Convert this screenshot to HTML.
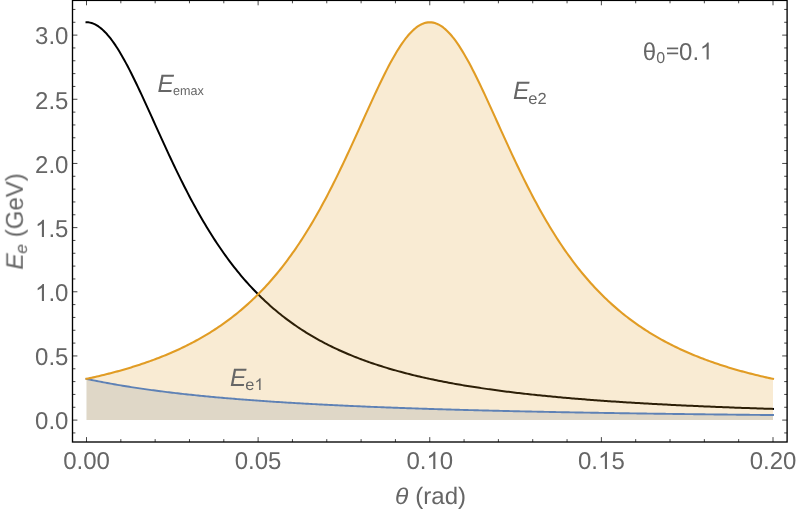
<!DOCTYPE html>
<html><head><meta charset="utf-8"><title>Plot</title>
<style>
html,body{margin:0;padding:0;background:#fff;}
body{width:797px;height:509px;overflow:hidden;font-family:"Liberation Sans",sans-serif;}
svg{display:block;will-change:transform;}
</style></head><body>
<svg width="797" height="509" viewBox="0 0 797 509">
<rect width="797" height="509" fill="#fff"/>
<polyline points="86.50,22.28 88.22,22.36 89.93,22.62 91.65,23.05 93.36,23.65 95.08,24.42 96.80,25.35 98.51,26.45 100.23,27.71 101.95,29.13 103.66,30.70 105.38,32.42 107.09,34.29 108.81,36.30 110.53,38.45 112.24,40.74 113.96,43.15 115.68,45.68 117.39,48.33 119.11,51.08 120.83,53.95 122.54,56.91 124.26,59.97 125.97,63.11 127.69,66.34 129.41,69.64 131.12,73.02 132.84,76.45 134.56,79.95 136.27,83.49 137.99,87.09 139.70,90.73 141.42,94.40 143.14,98.11 144.85,101.84 146.57,105.59 148.28,109.36 150.00,113.15 151.72,116.94 153.43,120.74 155.15,124.54 156.87,128.34 158.58,132.13 160.30,135.91 162.01,139.68 163.73,143.43 165.45,147.17 167.16,150.88 168.88,154.57 170.60,158.24 172.31,161.88 174.03,165.49 175.75,169.07 177.46,172.61 179.18,176.12 180.89,179.60 182.61,183.04 184.33,186.44 186.04,189.81 187.76,193.13 189.47,196.42 191.19,199.66 192.91,202.86 194.62,206.02 196.34,209.14 198.06,212.21 199.77,215.25 201.49,218.24 203.21,221.18 204.92,224.09 206.64,226.95 208.35,229.76 210.07,232.54 211.79,235.27 213.50,237.96 215.22,240.61 216.94,243.22 218.65,245.78 220.37,248.30 222.08,250.79 223.80,253.23 225.52,255.63 227.23,257.99 228.95,260.32 230.67,262.60 232.38,264.85 234.10,267.05 235.81,269.23 237.53,271.36 239.25,273.46 240.96,275.52 242.68,277.55 244.40,279.54 246.11,281.50 247.83,283.43 249.54,285.32 251.26,287.18 252.98,289.01 254.69,290.81 256.41,292.57 258.12,294.31 259.84,296.01 261.56,297.69 263.27,299.34 264.99,300.95 266.71,302.55 268.42,304.11 270.14,305.65 271.86,307.16 273.57,308.64 275.29,310.10 277.00,311.54 278.72,312.95 280.44,314.33 282.15,315.70 283.87,317.03 285.59,318.35 287.30,319.65 289.02,320.92 290.73,322.17 292.45,323.40 294.17,324.61 295.88,325.80 297.60,326.97 299.31,328.12 301.03,329.25 302.75,330.36 304.46,331.46 306.18,332.53 307.90,333.59 309.61,334.63 311.33,335.66 313.05,336.66 314.76,337.65 316.48,338.63 318.19,339.59 319.91,340.53 321.63,341.46 323.34,342.37 325.06,343.27 326.78,344.16 328.49,345.03 330.21,345.89 331.92,346.73 333.64,347.56 335.36,348.38 337.07,349.18 338.79,349.97 340.50,350.75 342.22,351.52 343.94,352.28 345.65,353.02 347.37,353.75 349.09,354.48 350.80,355.19 352.52,355.89 354.24,356.58 355.95,357.26 357.67,357.93 359.38,358.58 361.10,359.23 362.82,359.87 364.53,360.50 366.25,361.12 367.97,361.74 369.68,362.34 371.40,362.93 373.11,363.52 374.83,364.10 376.55,364.66 378.26,365.23 379.98,365.78 381.70,366.32 383.41,366.86 385.13,367.39 386.84,367.91 388.56,368.43 390.28,368.93 391.99,369.43 393.71,369.93 395.43,370.41 397.14,370.89 398.86,371.37 400.57,371.83 402.29,372.29 404.01,372.75 405.72,373.19 407.44,373.64 409.15,374.07 410.87,374.50 412.59,374.93 414.30,375.35 416.02,375.76 417.74,376.17 419.45,376.57 421.17,376.97 422.88,377.36 424.60,377.74 426.32,378.13 428.03,378.50 429.75,378.87 431.47,379.24 433.18,379.60 434.90,379.96 436.62,380.32 438.33,380.66 440.05,381.01 441.76,381.35 443.48,381.68 445.20,382.02 446.91,382.34 448.63,382.67 450.34,382.99 452.06,383.30 453.78,383.61 455.49,383.92 457.21,384.23 458.93,384.53 460.64,384.82 462.36,385.12 464.07,385.41 465.79,385.69 467.51,385.97 469.22,386.25 470.94,386.53 472.66,386.80 474.37,387.07 476.09,387.34 477.81,387.60 479.52,387.86 481.24,388.12 482.95,388.37 484.67,388.63 486.39,388.87 488.10,389.12 489.82,389.36 491.54,389.60 493.25,389.84 494.97,390.07 496.68,390.31 498.40,390.54 500.12,390.76 501.83,390.99 503.55,391.21 505.26,391.43 506.98,391.64 508.70,391.86 510.41,392.07 512.13,392.28 513.85,392.49 515.56,392.69 517.28,392.90 519.00,393.10 520.71,393.30 522.43,393.49 524.14,393.69 525.86,393.88 527.58,394.07 529.29,394.26 531.01,394.44 532.73,394.63 534.44,394.81 536.16,394.99 537.87,395.17 539.59,395.35 541.31,395.52 543.02,395.70 544.74,395.87 546.46,396.04 548.17,396.20 549.89,396.37 551.60,396.53 553.32,396.70 555.04,396.86 556.75,397.02 558.47,397.18 560.19,397.33 561.90,397.49 563.62,397.64 565.33,397.79 567.05,397.94 568.77,398.09 570.48,398.24 572.20,398.38 573.92,398.53 575.63,398.67 577.35,398.81 579.06,398.95 580.78,399.09 582.50,399.23 584.21,399.37 585.93,399.50 587.64,399.63 589.36,399.77 591.08,399.90 592.79,400.03 594.51,400.16 596.23,400.28 597.94,400.41 599.66,400.53 601.38,400.66 603.09,400.78 604.81,400.90 606.52,401.02 608.24,401.14 609.96,401.26 611.67,401.38 613.39,401.49 615.11,401.61 616.82,401.72 618.54,401.84 620.25,401.95 621.97,402.06 623.69,402.17 625.40,402.28 627.12,402.39 628.84,402.49 630.55,402.60 632.27,402.70 633.98,402.81 635.70,402.91 637.42,403.01 639.13,403.11 640.85,403.22 642.57,403.31 644.28,403.41 646.00,403.51 647.71,403.61 649.43,403.71 651.15,403.80 652.86,403.90 654.58,403.99 656.30,404.08 658.01,404.17 659.73,404.27 661.44,404.36 663.16,404.45 664.88,404.54 666.59,404.62 668.31,404.71 670.03,404.80 671.74,404.88 673.46,404.97 675.17,405.05 676.89,405.14 678.61,405.22 680.32,405.30 682.04,405.39 683.76,405.47 685.47,405.55 687.19,405.63 688.90,405.71 690.62,405.79 692.34,405.86 694.05,405.94 695.77,406.02 697.49,406.10 699.20,406.17 700.92,406.25 702.63,406.32 704.35,406.39 706.07,406.47 707.78,406.54 709.50,406.61 711.22,406.68 712.93,406.75 714.65,406.83 716.36,406.89 718.08,406.96 719.80,407.03 721.51,407.10 723.23,407.17 724.95,407.24 726.66,407.30 728.38,407.37 730.09,407.43 731.81,407.50 733.53,407.56 735.24,407.63 736.96,407.69 738.67,407.76 740.39,407.82 742.11,407.88 743.82,407.94 745.54,408.00 747.26,408.06 748.97,408.12 750.69,408.18 752.40,408.24 754.12,408.30 755.84,408.36 757.55,408.42 759.27,408.48 760.99,408.54 762.70,408.59 764.42,408.65 766.13,408.70 767.85,408.76 769.57,408.82 771.28,408.87 773.00,408.93" fill="none" stroke="#000" stroke-width="2.0" stroke-linejoin="round" stroke-linecap="square"/>
<polygon points="86.50,420.10 86.50,378.87 88.22,379.24 89.93,379.60 91.65,379.96 93.36,380.32 95.08,380.66 96.80,381.01 98.51,381.35 100.23,381.68 101.95,382.02 103.66,382.34 105.38,382.67 107.09,382.99 108.81,383.30 110.53,383.61 112.24,383.92 113.96,384.23 115.68,384.53 117.39,384.82 119.11,385.12 120.83,385.41 122.54,385.69 124.26,385.97 125.97,386.25 127.69,386.53 129.41,386.80 131.12,387.07 132.84,387.34 134.56,387.60 136.27,387.86 137.99,388.12 139.70,388.37 141.42,388.63 143.14,388.87 144.85,389.12 146.57,389.36 148.28,389.60 150.00,389.84 151.72,390.07 153.43,390.31 155.15,390.54 156.87,390.76 158.58,390.99 160.30,391.21 162.01,391.43 163.73,391.64 165.45,391.86 167.16,392.07 168.88,392.28 170.60,392.49 172.31,392.69 174.03,392.90 175.75,393.10 177.46,393.30 179.18,393.49 180.89,393.69 182.61,393.88 184.33,394.07 186.04,394.26 187.76,394.44 189.47,394.63 191.19,394.81 192.91,394.99 194.62,395.17 196.34,395.35 198.06,395.52 199.77,395.70 201.49,395.87 203.21,396.04 204.92,396.20 206.64,396.37 208.35,396.53 210.07,396.70 211.79,396.86 213.50,397.02 215.22,397.18 216.94,397.33 218.65,397.49 220.37,397.64 222.08,397.79 223.80,397.94 225.52,398.09 227.23,398.24 228.95,398.38 230.67,398.53 232.38,398.67 234.10,398.81 235.81,398.95 237.53,399.09 239.25,399.23 240.96,399.37 242.68,399.50 244.40,399.63 246.11,399.77 247.83,399.90 249.54,400.03 251.26,400.16 252.98,400.28 254.69,400.41 256.41,400.53 258.12,400.66 259.84,400.78 261.56,400.90 263.27,401.02 264.99,401.14 266.71,401.26 268.42,401.38 270.14,401.49 271.86,401.61 273.57,401.72 275.29,401.84 277.00,401.95 278.72,402.06 280.44,402.17 282.15,402.28 283.87,402.39 285.59,402.49 287.30,402.60 289.02,402.70 290.73,402.81 292.45,402.91 294.17,403.01 295.88,403.11 297.60,403.22 299.31,403.31 301.03,403.41 302.75,403.51 304.46,403.61 306.18,403.71 307.90,403.80 309.61,403.90 311.33,403.99 313.05,404.08 314.76,404.17 316.48,404.27 318.19,404.36 319.91,404.45 321.63,404.54 323.34,404.62 325.06,404.71 326.78,404.80 328.49,404.88 330.21,404.97 331.92,405.05 333.64,405.14 335.36,405.22 337.07,405.30 338.79,405.39 340.50,405.47 342.22,405.55 343.94,405.63 345.65,405.71 347.37,405.79 349.09,405.86 350.80,405.94 352.52,406.02 354.24,406.10 355.95,406.17 357.67,406.25 359.38,406.32 361.10,406.39 362.82,406.47 364.53,406.54 366.25,406.61 367.97,406.68 369.68,406.75 371.40,406.83 373.11,406.89 374.83,406.96 376.55,407.03 378.26,407.10 379.98,407.17 381.70,407.24 383.41,407.30 385.13,407.37 386.84,407.43 388.56,407.50 390.28,407.56 391.99,407.63 393.71,407.69 395.43,407.76 397.14,407.82 398.86,407.88 400.57,407.94 402.29,408.00 404.01,408.06 405.72,408.12 407.44,408.18 409.15,408.24 410.87,408.30 412.59,408.36 414.30,408.42 416.02,408.48 417.74,408.54 419.45,408.59 421.17,408.65 422.88,408.70 424.60,408.76 426.32,408.82 428.03,408.87 429.75,408.93 431.47,408.98 433.18,409.03 434.90,409.09 436.62,409.14 438.33,409.19 440.05,409.24 441.76,409.30 443.48,409.35 445.20,409.40 446.91,409.45 448.63,409.50 450.34,409.55 452.06,409.60 453.78,409.65 455.49,409.70 457.21,409.75 458.93,409.79 460.64,409.84 462.36,409.89 464.07,409.94 465.79,409.98 467.51,410.03 469.22,410.08 470.94,410.12 472.66,410.17 474.37,410.21 476.09,410.26 477.81,410.30 479.52,410.35 481.24,410.39 482.95,410.44 484.67,410.48 486.39,410.52 488.10,410.57 489.82,410.61 491.54,410.65 493.25,410.69 494.97,410.74 496.68,410.78 498.40,410.82 500.12,410.86 501.83,410.90 503.55,410.94 505.26,410.98 506.98,411.02 508.70,411.06 510.41,411.10 512.13,411.14 513.85,411.18 515.56,411.22 517.28,411.26 519.00,411.29 520.71,411.33 522.43,411.37 524.14,411.41 525.86,411.45 527.58,411.48 529.29,411.52 531.01,411.56 532.73,411.59 534.44,411.63 536.16,411.66 537.87,411.70 539.59,411.73 541.31,411.77 543.02,411.81 544.74,411.84 546.46,411.87 548.17,411.91 549.89,411.94 551.60,411.98 553.32,412.01 555.04,412.04 556.75,412.08 558.47,412.11 560.19,412.14 561.90,412.18 563.62,412.21 565.33,412.24 567.05,412.27 568.77,412.30 570.48,412.34 572.20,412.37 573.92,412.40 575.63,412.43 577.35,412.46 579.06,412.49 580.78,412.52 582.50,412.55 584.21,412.58 585.93,412.61 587.64,412.64 589.36,412.67 591.08,412.70 592.79,412.73 594.51,412.76 596.23,412.79 597.94,412.82 599.66,412.85 601.38,412.88 603.09,412.90 604.81,412.93 606.52,412.96 608.24,412.99 609.96,413.01 611.67,413.04 613.39,413.07 615.11,413.10 616.82,413.12 618.54,413.15 620.25,413.18 621.97,413.20 623.69,413.23 625.40,413.26 627.12,413.28 628.84,413.31 630.55,413.33 632.27,413.36 633.98,413.39 635.70,413.41 637.42,413.44 639.13,413.46 640.85,413.49 642.57,413.51 644.28,413.54 646.00,413.56 647.71,413.58 649.43,413.61 651.15,413.63 652.86,413.66 654.58,413.68 656.30,413.70 658.01,413.73 659.73,413.75 661.44,413.77 663.16,413.80 664.88,413.82 666.59,413.84 668.31,413.87 670.03,413.89 671.74,413.91 673.46,413.93 675.17,413.96 676.89,413.98 678.61,414.00 680.32,414.02 682.04,414.05 683.76,414.07 685.47,414.09 687.19,414.11 688.90,414.13 690.62,414.15 692.34,414.17 694.05,414.20 695.77,414.22 697.49,414.24 699.20,414.26 700.92,414.28 702.63,414.30 704.35,414.32 706.07,414.34 707.78,414.36 709.50,414.38 711.22,414.40 712.93,414.42 714.65,414.44 716.36,414.46 718.08,414.48 719.80,414.50 721.51,414.52 723.23,414.54 724.95,414.56 726.66,414.57 728.38,414.59 730.09,414.61 731.81,414.63 733.53,414.65 735.24,414.67 736.96,414.69 738.67,414.71 740.39,414.72 742.11,414.74 743.82,414.76 745.54,414.78 747.26,414.80 748.97,414.81 750.69,414.83 752.40,414.85 754.12,414.87 755.84,414.88 757.55,414.90 759.27,414.92 760.99,414.94 762.70,414.95 764.42,414.97 766.13,414.99 767.85,415.00 769.57,415.02 771.28,415.04 773.00,415.05 773.00,420.10" fill="#5E81B5" fill-opacity="0.2"/>
<polygon points="86.50,420.10 86.50,378.87 88.22,378.50 89.93,378.13 91.65,377.74 93.36,377.36 95.08,376.97 96.80,376.57 98.51,376.17 100.23,375.76 101.95,375.35 103.66,374.93 105.38,374.50 107.09,374.07 108.81,373.64 110.53,373.19 112.24,372.75 113.96,372.29 115.68,371.83 117.39,371.37 119.11,370.89 120.83,370.41 122.54,369.93 124.26,369.43 125.97,368.93 127.69,368.43 129.41,367.91 131.12,367.39 132.84,366.86 134.56,366.32 136.27,365.78 137.99,365.23 139.70,364.66 141.42,364.10 143.14,363.52 144.85,362.93 146.57,362.34 148.28,361.74 150.00,361.12 151.72,360.50 153.43,359.87 155.15,359.23 156.87,358.58 158.58,357.93 160.30,357.26 162.01,356.58 163.73,355.89 165.45,355.19 167.16,354.48 168.88,353.75 170.60,353.02 172.31,352.28 174.03,351.52 175.75,350.75 177.46,349.97 179.18,349.18 180.89,348.38 182.61,347.56 184.33,346.73 186.04,345.89 187.76,345.03 189.47,344.16 191.19,343.27 192.91,342.37 194.62,341.46 196.34,340.53 198.06,339.59 199.77,338.63 201.49,337.65 203.21,336.66 204.92,335.66 206.64,334.63 208.35,333.59 210.07,332.53 211.79,331.46 213.50,330.36 215.22,329.25 216.94,328.12 218.65,326.97 220.37,325.80 222.08,324.61 223.80,323.40 225.52,322.17 227.23,320.92 228.95,319.65 230.67,318.35 232.38,317.03 234.10,315.70 235.81,314.33 237.53,312.95 239.25,311.54 240.96,310.10 242.68,308.64 244.40,307.16 246.11,305.65 247.83,304.11 249.54,302.55 251.26,300.95 252.98,299.34 254.69,297.69 256.41,296.01 258.12,294.31 259.84,292.57 261.56,290.81 263.27,289.01 264.99,287.18 266.71,285.32 268.42,283.43 270.14,281.50 271.86,279.54 273.57,277.55 275.29,275.52 277.00,273.46 278.72,271.36 280.44,269.23 282.15,267.05 283.87,264.85 285.59,262.60 287.30,260.32 289.02,257.99 290.73,255.63 292.45,253.23 294.17,250.79 295.88,248.30 297.60,245.78 299.31,243.22 301.03,240.61 302.75,237.96 304.46,235.27 306.18,232.54 307.90,229.76 309.61,226.95 311.33,224.09 313.05,221.18 314.76,218.24 316.48,215.25 318.19,212.21 319.91,209.14 321.63,206.02 323.34,202.86 325.06,199.66 326.78,196.42 328.49,193.13 330.21,189.81 331.92,186.44 333.64,183.04 335.36,179.60 337.07,176.12 338.79,172.61 340.50,169.07 342.22,165.49 343.94,161.88 345.65,158.24 347.37,154.57 349.09,150.88 350.80,147.17 352.52,143.43 354.24,139.68 355.95,135.91 357.67,132.13 359.38,128.34 361.10,124.54 362.82,120.74 364.53,116.94 366.25,113.15 367.97,109.36 369.68,105.59 371.40,101.84 373.11,98.11 374.83,94.40 376.55,90.73 378.26,87.09 379.98,83.49 381.70,79.95 383.41,76.45 385.13,73.02 386.84,69.64 388.56,66.34 390.28,63.11 391.99,59.97 393.71,56.91 395.43,53.95 397.14,51.08 398.86,48.33 400.57,45.68 402.29,43.15 404.01,40.74 405.72,38.45 407.44,36.30 409.15,34.29 410.87,32.42 412.59,30.70 414.30,29.13 416.02,27.71 417.74,26.45 419.45,25.35 421.17,24.42 422.88,23.65 424.60,23.05 426.32,22.62 428.03,22.36 429.75,22.28 431.47,22.36 433.18,22.62 434.90,23.05 436.62,23.65 438.33,24.42 440.05,25.35 441.76,26.45 443.48,27.71 445.20,29.13 446.91,30.70 448.63,32.42 450.34,34.29 452.06,36.30 453.78,38.45 455.49,40.74 457.21,43.15 458.93,45.68 460.64,48.33 462.36,51.08 464.07,53.95 465.79,56.91 467.51,59.97 469.22,63.11 470.94,66.34 472.66,69.64 474.37,73.02 476.09,76.45 477.81,79.95 479.52,83.49 481.24,87.09 482.95,90.73 484.67,94.40 486.39,98.11 488.10,101.84 489.82,105.59 491.54,109.36 493.25,113.15 494.97,116.94 496.68,120.74 498.40,124.54 500.12,128.34 501.83,132.13 503.55,135.91 505.26,139.68 506.98,143.43 508.70,147.17 510.41,150.88 512.13,154.57 513.85,158.24 515.56,161.88 517.28,165.49 519.00,169.07 520.71,172.61 522.43,176.12 524.14,179.60 525.86,183.04 527.58,186.44 529.29,189.81 531.01,193.13 532.73,196.42 534.44,199.66 536.16,202.86 537.87,206.02 539.59,209.14 541.31,212.21 543.02,215.25 544.74,218.24 546.46,221.18 548.17,224.09 549.89,226.95 551.60,229.76 553.32,232.54 555.04,235.27 556.75,237.96 558.47,240.61 560.19,243.22 561.90,245.78 563.62,248.30 565.33,250.79 567.05,253.23 568.77,255.63 570.48,257.99 572.20,260.32 573.92,262.60 575.63,264.85 577.35,267.05 579.06,269.23 580.78,271.36 582.50,273.46 584.21,275.52 585.93,277.55 587.64,279.54 589.36,281.50 591.08,283.43 592.79,285.32 594.51,287.18 596.23,289.01 597.94,290.81 599.66,292.57 601.38,294.31 603.09,296.01 604.81,297.69 606.52,299.34 608.24,300.95 609.96,302.55 611.67,304.11 613.39,305.65 615.11,307.16 616.82,308.64 618.54,310.10 620.25,311.54 621.97,312.95 623.69,314.33 625.40,315.70 627.12,317.03 628.84,318.35 630.55,319.65 632.27,320.92 633.98,322.17 635.70,323.40 637.42,324.61 639.13,325.80 640.85,326.97 642.57,328.12 644.28,329.25 646.00,330.36 647.71,331.46 649.43,332.53 651.15,333.59 652.86,334.63 654.58,335.66 656.30,336.66 658.01,337.65 659.73,338.63 661.44,339.59 663.16,340.53 664.88,341.46 666.59,342.37 668.31,343.27 670.03,344.16 671.74,345.03 673.46,345.89 675.17,346.73 676.89,347.56 678.61,348.38 680.32,349.18 682.04,349.97 683.76,350.75 685.47,351.52 687.19,352.28 688.90,353.02 690.62,353.75 692.34,354.48 694.05,355.19 695.77,355.89 697.49,356.58 699.20,357.26 700.92,357.93 702.63,358.58 704.35,359.23 706.07,359.87 707.78,360.50 709.50,361.12 711.22,361.74 712.93,362.34 714.65,362.93 716.36,363.52 718.08,364.10 719.80,364.66 721.51,365.23 723.23,365.78 724.95,366.32 726.66,366.86 728.38,367.39 730.09,367.91 731.81,368.43 733.53,368.93 735.24,369.43 736.96,369.93 738.67,370.41 740.39,370.89 742.11,371.37 743.82,371.83 745.54,372.29 747.26,372.75 748.97,373.19 750.69,373.64 752.40,374.07 754.12,374.50 755.84,374.93 757.55,375.35 759.27,375.76 760.99,376.17 762.70,376.57 764.42,376.97 766.13,377.36 767.85,377.74 769.57,378.13 771.28,378.50 773.00,378.87 773.00,420.10" fill="#E19C24" fill-opacity="0.2"/>
<polyline points="86.50,378.87 88.22,379.24 89.93,379.60 91.65,379.96 93.36,380.32 95.08,380.66 96.80,381.01 98.51,381.35 100.23,381.68 101.95,382.02 103.66,382.34 105.38,382.67 107.09,382.99 108.81,383.30 110.53,383.61 112.24,383.92 113.96,384.23 115.68,384.53 117.39,384.82 119.11,385.12 120.83,385.41 122.54,385.69 124.26,385.97 125.97,386.25 127.69,386.53 129.41,386.80 131.12,387.07 132.84,387.34 134.56,387.60 136.27,387.86 137.99,388.12 139.70,388.37 141.42,388.63 143.14,388.87 144.85,389.12 146.57,389.36 148.28,389.60 150.00,389.84 151.72,390.07 153.43,390.31 155.15,390.54 156.87,390.76 158.58,390.99 160.30,391.21 162.01,391.43 163.73,391.64 165.45,391.86 167.16,392.07 168.88,392.28 170.60,392.49 172.31,392.69 174.03,392.90 175.75,393.10 177.46,393.30 179.18,393.49 180.89,393.69 182.61,393.88 184.33,394.07 186.04,394.26 187.76,394.44 189.47,394.63 191.19,394.81 192.91,394.99 194.62,395.17 196.34,395.35 198.06,395.52 199.77,395.70 201.49,395.87 203.21,396.04 204.92,396.20 206.64,396.37 208.35,396.53 210.07,396.70 211.79,396.86 213.50,397.02 215.22,397.18 216.94,397.33 218.65,397.49 220.37,397.64 222.08,397.79 223.80,397.94 225.52,398.09 227.23,398.24 228.95,398.38 230.67,398.53 232.38,398.67 234.10,398.81 235.81,398.95 237.53,399.09 239.25,399.23 240.96,399.37 242.68,399.50 244.40,399.63 246.11,399.77 247.83,399.90 249.54,400.03 251.26,400.16 252.98,400.28 254.69,400.41 256.41,400.53 258.12,400.66 259.84,400.78 261.56,400.90 263.27,401.02 264.99,401.14 266.71,401.26 268.42,401.38 270.14,401.49 271.86,401.61 273.57,401.72 275.29,401.84 277.00,401.95 278.72,402.06 280.44,402.17 282.15,402.28 283.87,402.39 285.59,402.49 287.30,402.60 289.02,402.70 290.73,402.81 292.45,402.91 294.17,403.01 295.88,403.11 297.60,403.22 299.31,403.31 301.03,403.41 302.75,403.51 304.46,403.61 306.18,403.71 307.90,403.80 309.61,403.90 311.33,403.99 313.05,404.08 314.76,404.17 316.48,404.27 318.19,404.36 319.91,404.45 321.63,404.54 323.34,404.62 325.06,404.71 326.78,404.80 328.49,404.88 330.21,404.97 331.92,405.05 333.64,405.14 335.36,405.22 337.07,405.30 338.79,405.39 340.50,405.47 342.22,405.55 343.94,405.63 345.65,405.71 347.37,405.79 349.09,405.86 350.80,405.94 352.52,406.02 354.24,406.10 355.95,406.17 357.67,406.25 359.38,406.32 361.10,406.39 362.82,406.47 364.53,406.54 366.25,406.61 367.97,406.68 369.68,406.75 371.40,406.83 373.11,406.89 374.83,406.96 376.55,407.03 378.26,407.10 379.98,407.17 381.70,407.24 383.41,407.30 385.13,407.37 386.84,407.43 388.56,407.50 390.28,407.56 391.99,407.63 393.71,407.69 395.43,407.76 397.14,407.82 398.86,407.88 400.57,407.94 402.29,408.00 404.01,408.06 405.72,408.12 407.44,408.18 409.15,408.24 410.87,408.30 412.59,408.36 414.30,408.42 416.02,408.48 417.74,408.54 419.45,408.59 421.17,408.65 422.88,408.70 424.60,408.76 426.32,408.82 428.03,408.87 429.75,408.93 431.47,408.98 433.18,409.03 434.90,409.09 436.62,409.14 438.33,409.19 440.05,409.24 441.76,409.30 443.48,409.35 445.20,409.40 446.91,409.45 448.63,409.50 450.34,409.55 452.06,409.60 453.78,409.65 455.49,409.70 457.21,409.75 458.93,409.79 460.64,409.84 462.36,409.89 464.07,409.94 465.79,409.98 467.51,410.03 469.22,410.08 470.94,410.12 472.66,410.17 474.37,410.21 476.09,410.26 477.81,410.30 479.52,410.35 481.24,410.39 482.95,410.44 484.67,410.48 486.39,410.52 488.10,410.57 489.82,410.61 491.54,410.65 493.25,410.69 494.97,410.74 496.68,410.78 498.40,410.82 500.12,410.86 501.83,410.90 503.55,410.94 505.26,410.98 506.98,411.02 508.70,411.06 510.41,411.10 512.13,411.14 513.85,411.18 515.56,411.22 517.28,411.26 519.00,411.29 520.71,411.33 522.43,411.37 524.14,411.41 525.86,411.45 527.58,411.48 529.29,411.52 531.01,411.56 532.73,411.59 534.44,411.63 536.16,411.66 537.87,411.70 539.59,411.73 541.31,411.77 543.02,411.81 544.74,411.84 546.46,411.87 548.17,411.91 549.89,411.94 551.60,411.98 553.32,412.01 555.04,412.04 556.75,412.08 558.47,412.11 560.19,412.14 561.90,412.18 563.62,412.21 565.33,412.24 567.05,412.27 568.77,412.30 570.48,412.34 572.20,412.37 573.92,412.40 575.63,412.43 577.35,412.46 579.06,412.49 580.78,412.52 582.50,412.55 584.21,412.58 585.93,412.61 587.64,412.64 589.36,412.67 591.08,412.70 592.79,412.73 594.51,412.76 596.23,412.79 597.94,412.82 599.66,412.85 601.38,412.88 603.09,412.90 604.81,412.93 606.52,412.96 608.24,412.99 609.96,413.01 611.67,413.04 613.39,413.07 615.11,413.10 616.82,413.12 618.54,413.15 620.25,413.18 621.97,413.20 623.69,413.23 625.40,413.26 627.12,413.28 628.84,413.31 630.55,413.33 632.27,413.36 633.98,413.39 635.70,413.41 637.42,413.44 639.13,413.46 640.85,413.49 642.57,413.51 644.28,413.54 646.00,413.56 647.71,413.58 649.43,413.61 651.15,413.63 652.86,413.66 654.58,413.68 656.30,413.70 658.01,413.73 659.73,413.75 661.44,413.77 663.16,413.80 664.88,413.82 666.59,413.84 668.31,413.87 670.03,413.89 671.74,413.91 673.46,413.93 675.17,413.96 676.89,413.98 678.61,414.00 680.32,414.02 682.04,414.05 683.76,414.07 685.47,414.09 687.19,414.11 688.90,414.13 690.62,414.15 692.34,414.17 694.05,414.20 695.77,414.22 697.49,414.24 699.20,414.26 700.92,414.28 702.63,414.30 704.35,414.32 706.07,414.34 707.78,414.36 709.50,414.38 711.22,414.40 712.93,414.42 714.65,414.44 716.36,414.46 718.08,414.48 719.80,414.50 721.51,414.52 723.23,414.54 724.95,414.56 726.66,414.57 728.38,414.59 730.09,414.61 731.81,414.63 733.53,414.65 735.24,414.67 736.96,414.69 738.67,414.71 740.39,414.72 742.11,414.74 743.82,414.76 745.54,414.78 747.26,414.80 748.97,414.81 750.69,414.83 752.40,414.85 754.12,414.87 755.84,414.88 757.55,414.90 759.27,414.92 760.99,414.94 762.70,414.95 764.42,414.97 766.13,414.99 767.85,415.00 769.57,415.02 771.28,415.04 773.00,415.05" fill="none" stroke="#5E81B5" stroke-width="1.9" stroke-linejoin="round" stroke-linecap="square"/>
<polyline points="86.50,378.87 88.22,378.50 89.93,378.13 91.65,377.74 93.36,377.36 95.08,376.97 96.80,376.57 98.51,376.17 100.23,375.76 101.95,375.35 103.66,374.93 105.38,374.50 107.09,374.07 108.81,373.64 110.53,373.19 112.24,372.75 113.96,372.29 115.68,371.83 117.39,371.37 119.11,370.89 120.83,370.41 122.54,369.93 124.26,369.43 125.97,368.93 127.69,368.43 129.41,367.91 131.12,367.39 132.84,366.86 134.56,366.32 136.27,365.78 137.99,365.23 139.70,364.66 141.42,364.10 143.14,363.52 144.85,362.93 146.57,362.34 148.28,361.74 150.00,361.12 151.72,360.50 153.43,359.87 155.15,359.23 156.87,358.58 158.58,357.93 160.30,357.26 162.01,356.58 163.73,355.89 165.45,355.19 167.16,354.48 168.88,353.75 170.60,353.02 172.31,352.28 174.03,351.52 175.75,350.75 177.46,349.97 179.18,349.18 180.89,348.38 182.61,347.56 184.33,346.73 186.04,345.89 187.76,345.03 189.47,344.16 191.19,343.27 192.91,342.37 194.62,341.46 196.34,340.53 198.06,339.59 199.77,338.63 201.49,337.65 203.21,336.66 204.92,335.66 206.64,334.63 208.35,333.59 210.07,332.53 211.79,331.46 213.50,330.36 215.22,329.25 216.94,328.12 218.65,326.97 220.37,325.80 222.08,324.61 223.80,323.40 225.52,322.17 227.23,320.92 228.95,319.65 230.67,318.35 232.38,317.03 234.10,315.70 235.81,314.33 237.53,312.95 239.25,311.54 240.96,310.10 242.68,308.64 244.40,307.16 246.11,305.65 247.83,304.11 249.54,302.55 251.26,300.95 252.98,299.34 254.69,297.69 256.41,296.01 258.12,294.31 259.84,292.57 261.56,290.81 263.27,289.01 264.99,287.18 266.71,285.32 268.42,283.43 270.14,281.50 271.86,279.54 273.57,277.55 275.29,275.52 277.00,273.46 278.72,271.36 280.44,269.23 282.15,267.05 283.87,264.85 285.59,262.60 287.30,260.32 289.02,257.99 290.73,255.63 292.45,253.23 294.17,250.79 295.88,248.30 297.60,245.78 299.31,243.22 301.03,240.61 302.75,237.96 304.46,235.27 306.18,232.54 307.90,229.76 309.61,226.95 311.33,224.09 313.05,221.18 314.76,218.24 316.48,215.25 318.19,212.21 319.91,209.14 321.63,206.02 323.34,202.86 325.06,199.66 326.78,196.42 328.49,193.13 330.21,189.81 331.92,186.44 333.64,183.04 335.36,179.60 337.07,176.12 338.79,172.61 340.50,169.07 342.22,165.49 343.94,161.88 345.65,158.24 347.37,154.57 349.09,150.88 350.80,147.17 352.52,143.43 354.24,139.68 355.95,135.91 357.67,132.13 359.38,128.34 361.10,124.54 362.82,120.74 364.53,116.94 366.25,113.15 367.97,109.36 369.68,105.59 371.40,101.84 373.11,98.11 374.83,94.40 376.55,90.73 378.26,87.09 379.98,83.49 381.70,79.95 383.41,76.45 385.13,73.02 386.84,69.64 388.56,66.34 390.28,63.11 391.99,59.97 393.71,56.91 395.43,53.95 397.14,51.08 398.86,48.33 400.57,45.68 402.29,43.15 404.01,40.74 405.72,38.45 407.44,36.30 409.15,34.29 410.87,32.42 412.59,30.70 414.30,29.13 416.02,27.71 417.74,26.45 419.45,25.35 421.17,24.42 422.88,23.65 424.60,23.05 426.32,22.62 428.03,22.36 429.75,22.28 431.47,22.36 433.18,22.62 434.90,23.05 436.62,23.65 438.33,24.42 440.05,25.35 441.76,26.45 443.48,27.71 445.20,29.13 446.91,30.70 448.63,32.42 450.34,34.29 452.06,36.30 453.78,38.45 455.49,40.74 457.21,43.15 458.93,45.68 460.64,48.33 462.36,51.08 464.07,53.95 465.79,56.91 467.51,59.97 469.22,63.11 470.94,66.34 472.66,69.64 474.37,73.02 476.09,76.45 477.81,79.95 479.52,83.49 481.24,87.09 482.95,90.73 484.67,94.40 486.39,98.11 488.10,101.84 489.82,105.59 491.54,109.36 493.25,113.15 494.97,116.94 496.68,120.74 498.40,124.54 500.12,128.34 501.83,132.13 503.55,135.91 505.26,139.68 506.98,143.43 508.70,147.17 510.41,150.88 512.13,154.57 513.85,158.24 515.56,161.88 517.28,165.49 519.00,169.07 520.71,172.61 522.43,176.12 524.14,179.60 525.86,183.04 527.58,186.44 529.29,189.81 531.01,193.13 532.73,196.42 534.44,199.66 536.16,202.86 537.87,206.02 539.59,209.14 541.31,212.21 543.02,215.25 544.74,218.24 546.46,221.18 548.17,224.09 549.89,226.95 551.60,229.76 553.32,232.54 555.04,235.27 556.75,237.96 558.47,240.61 560.19,243.22 561.90,245.78 563.62,248.30 565.33,250.79 567.05,253.23 568.77,255.63 570.48,257.99 572.20,260.32 573.92,262.60 575.63,264.85 577.35,267.05 579.06,269.23 580.78,271.36 582.50,273.46 584.21,275.52 585.93,277.55 587.64,279.54 589.36,281.50 591.08,283.43 592.79,285.32 594.51,287.18 596.23,289.01 597.94,290.81 599.66,292.57 601.38,294.31 603.09,296.01 604.81,297.69 606.52,299.34 608.24,300.95 609.96,302.55 611.67,304.11 613.39,305.65 615.11,307.16 616.82,308.64 618.54,310.10 620.25,311.54 621.97,312.95 623.69,314.33 625.40,315.70 627.12,317.03 628.84,318.35 630.55,319.65 632.27,320.92 633.98,322.17 635.70,323.40 637.42,324.61 639.13,325.80 640.85,326.97 642.57,328.12 644.28,329.25 646.00,330.36 647.71,331.46 649.43,332.53 651.15,333.59 652.86,334.63 654.58,335.66 656.30,336.66 658.01,337.65 659.73,338.63 661.44,339.59 663.16,340.53 664.88,341.46 666.59,342.37 668.31,343.27 670.03,344.16 671.74,345.03 673.46,345.89 675.17,346.73 676.89,347.56 678.61,348.38 680.32,349.18 682.04,349.97 683.76,350.75 685.47,351.52 687.19,352.28 688.90,353.02 690.62,353.75 692.34,354.48 694.05,355.19 695.77,355.89 697.49,356.58 699.20,357.26 700.92,357.93 702.63,358.58 704.35,359.23 706.07,359.87 707.78,360.50 709.50,361.12 711.22,361.74 712.93,362.34 714.65,362.93 716.36,363.52 718.08,364.10 719.80,364.66 721.51,365.23 723.23,365.78 724.95,366.32 726.66,366.86 728.38,367.39 730.09,367.91 731.81,368.43 733.53,368.93 735.24,369.43 736.96,369.93 738.67,370.41 740.39,370.89 742.11,371.37 743.82,371.83 745.54,372.29 747.26,372.75 748.97,373.19 750.69,373.64 752.40,374.07 754.12,374.50 755.84,374.93 757.55,375.35 759.27,375.76 760.99,376.17 762.70,376.57 764.42,376.97 766.13,377.36 767.85,377.74 769.57,378.13 771.28,378.50 773.00,378.87" fill="none" stroke="#E19C24" stroke-width="2.1" stroke-linejoin="round" stroke-linecap="square"/>
<path d="M86.50,442.0v-4.9M86.50,0.4v4.9M120.83,442.0v-2.9M120.83,0.4v2.9M155.15,442.0v-2.9M155.15,0.4v2.9M189.47,442.0v-2.9M189.47,0.4v2.9M223.80,442.0v-2.9M223.80,0.4v2.9M258.12,442.0v-4.9M258.12,0.4v4.9M292.45,442.0v-2.9M292.45,0.4v2.9M326.78,442.0v-2.9M326.78,0.4v2.9M361.10,442.0v-2.9M361.10,0.4v2.9M395.43,442.0v-2.9M395.43,0.4v2.9M429.75,442.0v-4.9M429.75,0.4v4.9M464.07,442.0v-2.9M464.07,0.4v2.9M498.40,442.0v-2.9M498.40,0.4v2.9M532.73,442.0v-2.9M532.73,0.4v2.9M567.05,442.0v-2.9M567.05,0.4v2.9M601.38,442.0v-4.9M601.38,0.4v4.9M635.70,442.0v-2.9M635.70,0.4v2.9M670.03,442.0v-2.9M670.03,0.4v2.9M704.35,442.0v-2.9M704.35,0.4v2.9M738.67,442.0v-2.9M738.67,0.4v2.9M773.00,442.0v-4.9M773.00,0.4v4.9M72.5,432.93h2.9M787.1,432.93h-2.9M72.5,420.10h4.9M787.1,420.10h-4.9M72.5,407.27h2.9M787.1,407.27h-2.9M72.5,394.43h2.9M787.1,394.43h-2.9M72.5,381.60h2.9M787.1,381.60h-2.9M72.5,368.77h2.9M787.1,368.77h-2.9M72.5,355.94h4.9M787.1,355.94h-4.9M72.5,343.10h2.9M787.1,343.10h-2.9M72.5,330.27h2.9M787.1,330.27h-2.9M72.5,317.44h2.9M787.1,317.44h-2.9M72.5,304.60h2.9M787.1,304.60h-2.9M72.5,291.77h4.9M787.1,291.77h-4.9M72.5,278.94h2.9M787.1,278.94h-2.9M72.5,266.10h2.9M787.1,266.10h-2.9M72.5,253.27h2.9M787.1,253.27h-2.9M72.5,240.44h2.9M787.1,240.44h-2.9M72.5,227.61h4.9M787.1,227.61h-4.9M72.5,214.77h2.9M787.1,214.77h-2.9M72.5,201.94h2.9M787.1,201.94h-2.9M72.5,189.11h2.9M787.1,189.11h-2.9M72.5,176.27h2.9M787.1,176.27h-2.9M72.5,163.44h4.9M787.1,163.44h-4.9M72.5,150.61h2.9M787.1,150.61h-2.9M72.5,137.77h2.9M787.1,137.77h-2.9M72.5,124.94h2.9M787.1,124.94h-2.9M72.5,112.11h2.9M787.1,112.11h-2.9M72.5,99.27h4.9M787.1,99.27h-4.9M72.5,86.44h2.9M787.1,86.44h-2.9M72.5,73.61h2.9M787.1,73.61h-2.9M72.5,60.78h2.9M787.1,60.78h-2.9M72.5,47.94h2.9M787.1,47.94h-2.9M72.5,35.11h4.9M787.1,35.11h-4.9M72.5,22.28h2.9M787.1,22.28h-2.9M72.5,9.44h2.9M787.1,9.44h-2.9" stroke="#333" stroke-width="0.9" fill="none"/>
<rect x="72.5" y="0.4" width="714.6" height="441.6" fill="none" stroke="#000" stroke-width="1.35"/>
<g opacity="0.999" font-family="Liberation Sans, sans-serif" font-size="24" fill="#666666" style="font-kerning:none;text-rendering:geometricPrecision">
<g transform="translate(86.50,469.00)">
<text transform="translate(-23.36,0.00) scale(1,1.0200)" font-size="24">0.00</text>
</g>
<g transform="translate(258.12,469.00)">
<text transform="translate(-23.36,0.00) scale(1,1.0200)" font-size="24">0.05</text>
</g>
<g transform="translate(429.75,469.00)">
<text transform="translate(-23.36,0.00) scale(1,1.0200)" font-size="24">0.</text>
<path transform="translate(-3.34,0.00) scale(0.011719,-0.011719)" d="M763 0H583V1147Q518 1085 412.5 1023Q307 961 223 930V1104Q374 1175 487 1276Q600 1377 647 1466H763Z"/>
<text transform="translate(10.01,0.00) scale(1,1.0200)" font-size="24">0</text>
</g>
<g transform="translate(601.38,469.00)">
<text transform="translate(-23.36,0.00) scale(1,1.0200)" font-size="24">0.</text>
<path transform="translate(-3.34,0.00) scale(0.011719,-0.011719)" d="M763 0H583V1147Q518 1085 412.5 1023Q307 961 223 930V1104Q374 1175 487 1276Q600 1377 647 1466H763Z"/>
<text transform="translate(10.01,0.00) scale(1,1.0200)" font-size="24">5</text>
</g>
<g transform="translate(773.00,469.00)">
<text transform="translate(-23.36,0.00) scale(1,1.0200)" font-size="24">0.20</text>
</g>
<g transform="translate(68.40,429.40)">
<text transform="translate(-33.36,0.00) scale(1,1.0200)" font-size="24">0.0</text>
</g>
<g transform="translate(68.40,365.24)">
<text transform="translate(-33.36,0.00) scale(1,1.0200)" font-size="24">0.5</text>
</g>
<g transform="translate(68.40,301.07)">
<path transform="translate(-33.36,0.00) scale(0.011719,-0.011719)" d="M763 0H583V1147Q518 1085 412.5 1023Q307 961 223 930V1104Q374 1175 487 1276Q600 1377 647 1466H763Z"/>
<text transform="translate(-20.02,0.00) scale(1,1.0200)" font-size="24">.0</text>
</g>
<g transform="translate(68.40,236.91)">
<path transform="translate(-33.36,0.00) scale(0.011719,-0.011719)" d="M763 0H583V1147Q518 1085 412.5 1023Q307 961 223 930V1104Q374 1175 487 1276Q600 1377 647 1466H763Z"/>
<text transform="translate(-20.02,0.00) scale(1,1.0200)" font-size="24">.5</text>
</g>
<g transform="translate(68.40,172.74)">
<text transform="translate(-33.36,0.00) scale(1,1.0200)" font-size="24">2.0</text>
</g>
<g transform="translate(68.40,108.57)">
<text transform="translate(-33.36,0.00) scale(1,1.0200)" font-size="24">2.5</text>
</g>
<g transform="translate(68.40,44.41)">
<text transform="translate(-33.36,0.00) scale(1,1.0200)" font-size="24">3.0</text>
</g>
<g transform="translate(430.80,504.00)">
<text transform="translate(-35.69,0.00) scale(1,0.9300)" font-size="24.6" font-style="italic">θ</text>
<text transform="translate(-22.15,0.00) scale(1,0.9900)" font-size="24"> (rad)</text>
</g>
<g transform="translate(22.80,221.50) rotate(-90)">
<text transform="translate(-48.22,0.00) scale(1,0.9750)" font-size="24.8" font-style="italic">E</text>
<text transform="translate(-32.18,4.00) scale(1,0.9500)" font-size="17.5" font-style="italic">e</text>
<text transform="translate(-22.45,0.00) scale(1,1.0200)" font-size="24"> (GeV)</text>
</g>
<g transform="translate(157.50,91.80)">
<text transform="translate(0.00,0.00) scale(1,1.0200)" font-size="24.5" font-style="italic">E</text>
<text transform="translate(15.54,3.40) scale(1,1.0200)" font-size="12.6">emax</text>
</g>
<g transform="translate(512.90,99.35)">
<text transform="translate(0.00,0.00) scale(1,1.0200)" font-size="24.5" font-style="italic">E</text>
<text transform="translate(15.34,4.20) scale(1,0.9800)" font-size="16.5">e2</text>
</g>
<g transform="translate(230.00,386.25)">
<text transform="translate(0.00,0.00) scale(1,1.0200)" font-size="24.5" font-style="italic">E</text>
<text transform="translate(15.34,3.75) scale(1,0.9700)" font-size="16.4">e</text>
<path transform="translate(24.46,3.75) scale(0.008008,-0.008008)" d="M763 0H583V1147Q518 1085 412.5 1023Q307 961 223 930V1104Q374 1175 487 1276Q600 1377 647 1466H763Z"/>
</g>
<g transform="translate(642.80,59.60)">
<text transform="translate(0.00,0.00) scale(1,1.0200)" font-size="24">θ</text>
<text transform="translate(13.35,3.50) scale(1,0.9800)" font-size="16">0</text>
<rect x="24.20" y="-12.05" width="11.15" height="1.70"/>
<rect x="24.20" y="-7.05" width="11.15" height="1.70"/>
<text transform="translate(36.26,0.00) scale(1,1.0200)" font-size="24">0.</text>
<path transform="translate(56.98,0.00) scale(0.011719,-0.011719)" d="M763 0H583V1147Q518 1085 412.5 1023Q307 961 223 930V1104Q374 1175 487 1276Q600 1377 647 1466H763Z"/>
</g>
</g>
</svg>
</body></html>
